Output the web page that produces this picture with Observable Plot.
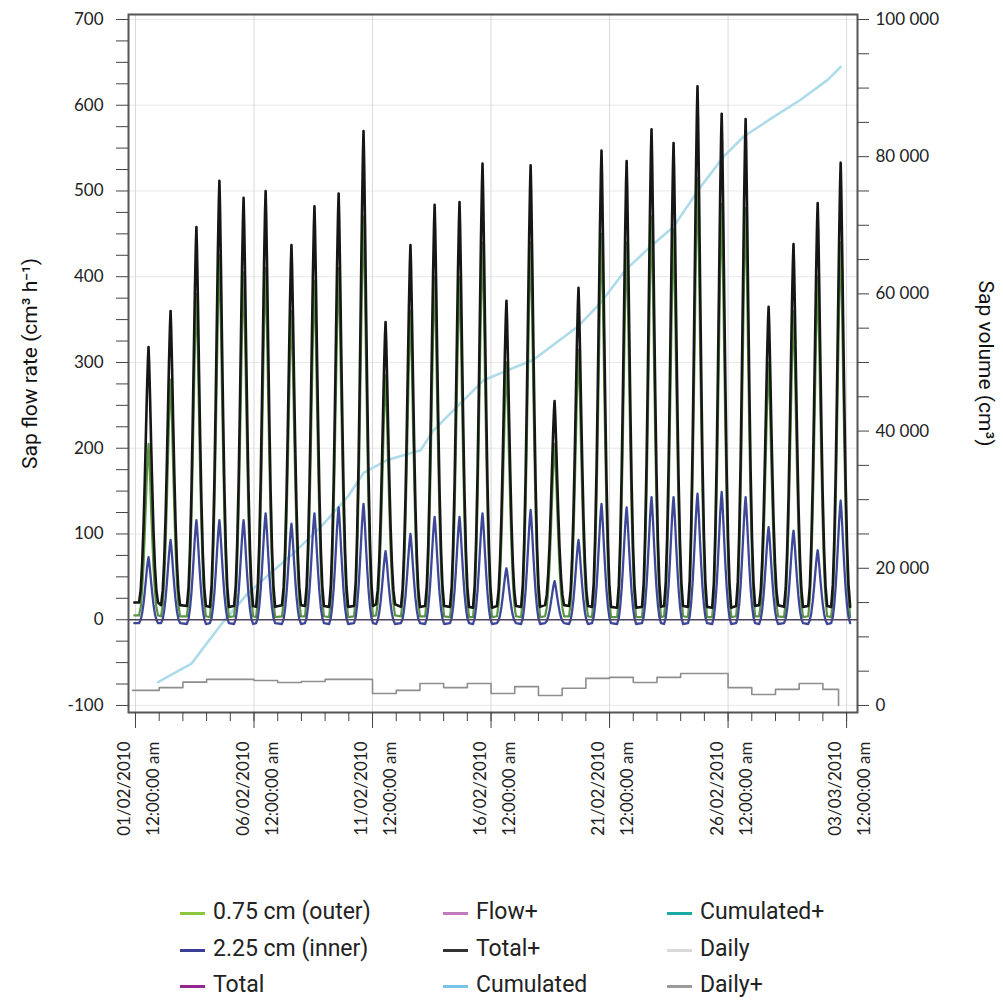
<!DOCTYPE html>
<html>
<head>
<meta charset="utf-8">
<script src="https://cdn.jsdelivr.net/npm/d3@7"></script>
<script src="https://cdn.jsdelivr.net/npm/@observablehq/plot@0.6"></script>
<style>
  html, body { margin: 0; padding: 0; background: #fff; }
  #wrap { position: relative; width: 1003px; height: 1001px; }
  #chart svg { display: block; font-variant-numeric: oldstyle-nums; }
  .lg { position: absolute; font-family: Roboto, "Noto Sans", sans-serif; font-size: 23px; color: #222; line-height: 1; white-space: nowrap; }
  .sw { position: absolute; width: 25px; height: 3px; }
</style>
</head>
<body>
<div id="wrap">
  <div id="chart"></div>
  <div id="legend"></div>
</div>
<script>
// ---------------- data ----------------
// day index 0 = 01/02/2010 00:00
const dayIndex = [0,1,2,3,4,5,6,7,8,9,10,11,12,13,14,15,16,17,18,19,20,21,22,23,24,25,26,27,28,29];
// time of the daily peak, as fraction of the day
const peakTime = [0.55,0.48,0.57,0.54,0.56,0.49,0.58,0.55,0.57,0.62,0.55,0.60,0.62,0.67,0.64,0.65,0.67,0.68,0.69,0.66,0.72,0.77,0.70,0.71,0.73,0.74,0.71,0.76,0.78,0.75];
// Total+ (black) daily peak, cm3/h
const totalPlusPeak = [318,360,458,512,492,500,437,482,497,570,347,437,484,487,532,372,530,255,387,547,535,572,556,622,590,584,365,438,486,533];
const totalPlusNight = [20,17,16,15,16,15,17,16,15,16,18,15,16,15,14,16,15,17,16,15,14,15,16,15,14,16,17,15,16,15];
// 0.75 cm (outer, green) daily peak
const outerPeak = [205,280,380,425,405,410,360,395,410,470,285,360,400,400,440,300,440,205,315,450,440,470,455,515,485,480,300,360,400,440];
const outerNight = [5,4,4,3,4,3,4,4,3,4,5,4,4,3,3,4,3,4,4,3,3,3,4,3,3,4,4,3,4,3];
// 2.25 cm (inner, blue) daily peak
const innerPeak = [73,93,116,116,116,124,112,124,131,135,80,100,120,120,124,60,128,45,93,135,131,143,143,147,149,143,108,104,81,139];
const innerNight = [-4,-4,-5,-4,-5,-4,-5,-4,-5,-4,-5,-4,-5,-4,-5,-4,-5,-4,-5,-4,-5,-4,-5,-4,-5,-4,-5,-4,-5,-4];
// shape of one daily spike (offset in days from the peak, share of the peak height)
const spikeOffset = [-0.40,-0.33,-0.27,-0.21,-0.16,-0.11,-0.065,-0.025,0,0.025,0.065,0.11,0.16,0.21,0.27,0.33,0.40];
const spikeShare  = [0,0.05,0.15,0.3,0.47,0.66,0.83,0.95,1,0.94,0.8,0.62,0.44,0.28,0.14,0.05,0];
// Cumulated sap volume (cm3), read points
const cumulatedDay    = [0.95,2.36,3.59,4.73,5.70,6.67,7.81,8.95,9.62,10.63,12.03,12.57,14.68,16.79,18.65,19.62,20.68,21.73,22.70,23.84,24.81,25.65,26.92,28.06,29.20,29.75];
const cumulatedVolume = [3400,6100,11700,16300,19300,22200,26000,30400,33900,35800,37200,40100,47400,50400,55200,58700,63500,66900,69800,75600,80000,82900,85800,88300,91200,93100];
// Daily+ sap volume (cm3), one value per day
const dailyVolume = [2200,2600,3400,3800,3800,3650,3350,3500,3800,3800,1750,2200,3200,2600,3200,1750,2750,1450,2500,3950,4100,3350,4100,4650,4650,2600,1600,2350,3200,2350];
const dailyEndDay = 29.66;
// axes
const xMajorDays = [0,5,10,15,20,25,30];
const xMinorDays = [0,1,2,3,4,5,6,7,8,9,10,11,12,13,14,15,16,17,18,19,20,21,22,23,24,25,26,27,28,29,30];
const yLeftMajor = [-100,0,100,200,300,400,500,600,700];
const yLeftMinor = [-100,-75,-50,-25,0,25,50,75,100,125,150,175,200,225,250,275,300,325,350,375,400,425,450,475,500,525,550,575,600,625,650,675,700];
const yRightMajor = [0,20000,40000,60000,80000,100000];
const yRightMinor = [0,5000,10000,15000,20000,25000,30000,35000,40000,45000,50000,55000,60000,65000,70000,75000,80000,85000,90000,95000,100000];

const legendItems = [
  ["0.75 cm (outer)", "#8dc63f"], ["2.25 cm (inner)", "#3a3d96"], ["Total", "#93278f"],
  ["Flow+", "#c27bbf"], ["Total+", "#333333"], ["Cumulated", "#7cc3e9"],
  ["Cumulated+", "#1aaaa0"], ["Daily", "#d9d9d9"], ["Daily+", "#9a9a9a"]
];

// ---------------- helpers ----------------
const BASE = Date.UTC(2010, 1, 1);
const DAY = 86400000;
const toDate = d => new Date(BASE + d * DAY);
const volToLeft = v => -100 + v * 0.008;   // right axis 0..100000 <-> left -100..700

function spikes(peaks, nights) {
  const rows = [{t: toDate(-0.05), v: nights[0]}];
  for (const i of dayIndex) {
    const c = i + peakTime[i];
    spikeOffset.forEach((o, k) => {
      rows.push({t: toDate(c + o), v: nights[i] + spikeShare[k] * (peaks[i] - nights[i])});
    });
  }
  return rows;
}
const outerRows = spikes(outerPeak, outerNight);
const innerRows = spikes(innerPeak, innerNight);
const totalRows = spikes(totalPlusPeak, totalPlusNight);
const cumRows = cumulatedDay.map((d, i) => ({t: toDate(d), v: volToLeft(cumulatedVolume[i])}));
const dailyRows = dayIndex.map(i => ({t: toDate(i === 0 ? -0.12 : i), v: volToLeft(dailyVolume[i])}));
dailyRows.push({t: toDate(dailyEndDay), v: volToLeft(dailyVolume[dailyVolume.length - 1])});
dailyRows.push({t: toDate(dailyEndDay), v: volToLeft(0)});

const fmtDate = d3.utcFormat("%d/%m/%Y");
const fmtVol = v => d3.format(",")(v).replace(/,/g, " ");
const fontTicks = "Lato, 'Open Sans', sans-serif";
const fontTitle = "Roboto, 'Noto Sans', sans-serif";

const chart = Plot.plot({
  width: 1003,
  height: 880,
  marginLeft: 128,
  marginRight: 146,
  marginTop: 14,
  marginBottom: 168,
  style: {fontFamily: fontTicks, fontSize: "17px", color: "#222", background: "#fff", overflow: "visible"},
  x: {type: "utc", domain: [toDate(-0.295), toDate(30.46)], label: null, axis: null},
  y: {domain: [-108.2, 705.8], label: null, axis: null},
  marks: [
    Plot.gridX(xMajorDays.map(toDate), {stroke: "#cfcfcf", strokeOpacity: 0.8}),
    Plot.gridY(yLeftMajor, {stroke: "#d8d8d8", strokeOpacity: 0.6}),
    Plot.line(dailyRows, {x: "t", y: "v", curve: "step-after", stroke: "#8e8e8e", strokeWidth: 1.6}),
    Plot.line(cumRows, {x: "t", y: "v", stroke: "#aedbea", strokeWidth: 2.6}),
    Plot.line(outerRows, {x: "t", y: "v", stroke: "#5a9642", strokeWidth: 2.2}),
    Plot.line(totalRows, {x: "t", y: "v", stroke: "#161616", strokeWidth: 2.6}),
    Plot.line(innerRows, {x: "t", y: "v", stroke: "#3d4698", strokeWidth: 2.3}),
    Plot.ruleY([0], {stroke: "#4d4560", strokeWidth: 1.5}),
    Plot.frame({stroke: "#555", strokeWidth: 2}),
    // x axis
    Plot.axisX(xMinorDays.map(toDate), {tickSize: 9, tickFormat: () => "", stroke: "#444"}),
    Plot.axisX(xMajorDays.map(toDate), {tickSize: 16, tickFormat: () => "", stroke: "#444"}),
    Plot.axisX(xMajorDays.map(toDate), {tickSize: 0, tickPadding: 29, tickRotate: -90, lineHeight: 1.7,
      tickFormat: d => fmtDate(d) + "\n12:00:00 am", fontSize: 17}),
    // left axis
    Plot.axisY(yLeftMinor, {anchor: "left", tickSize: 12, tickFormat: () => "", stroke: "#444"}),
    Plot.axisY(yLeftMajor, {anchor: "left", tickSize: 0, tickPadding: 25, tickFormat: d => String(d), fontSize: 17}),
    // right axis
    Plot.axisY(yRightMinor.map(volToLeft), {anchor: "right", tickSize: 11, tickFormat: () => "", stroke: "#444"}),
    Plot.axisY(yRightMajor.map(volToLeft), {anchor: "right", tickSize: 0, tickPadding: 18, fontSize: 17,
      tickFormat: y => fmtVol(Math.round((y + 100) / 0.008))}),
    // axis titles
    Plot.text(["Sap flow rate (cm³ h⁻¹)"], {frameAnchor: "left", textAnchor: "middle", dx: -98, rotate: -90, fontFamily: fontTitle, fontSize: 21, fill: "#111"}),
    Plot.text(["Sap volume (cm³)"], {frameAnchor: "right", textAnchor: "middle", dx: 128, rotate: 90, fontFamily: fontTitle, fontSize: 21, fill: "#111"})
  ]
});
document.getElementById("chart").appendChild(chart);

// ---------------- legend ----------------
const legend = document.getElementById("legend");
const colX = [180, 443, 667];
const rowY = [913, 950, 986];
legendItems.forEach(([name, color], i) => {
  const c = Math.floor(i / 3), r = i % 3;
  const sw = document.createElement("div");
  sw.className = "sw";
  sw.style.left = colX[c] + "px";
  sw.style.top = (rowY[r] - 1.5) + "px";
  sw.style.background = color;
  legend.appendChild(sw);
  const tx = document.createElement("div");
  tx.className = "lg";
  tx.textContent = name;
  tx.style.left = (colX[c] + 33) + "px";
  tx.style.top = (rowY[r] - 13) + "px";
  legend.appendChild(tx);
});
</script>
</body>
</html>
